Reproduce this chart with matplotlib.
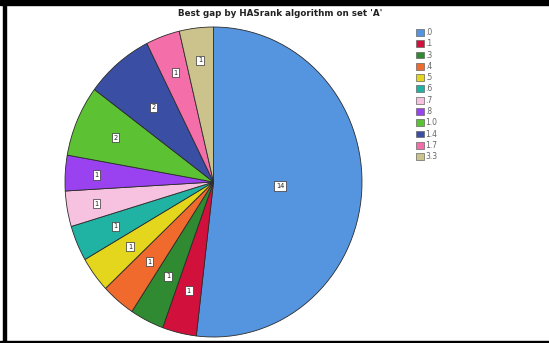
import numpy as np
import matplotlib
matplotlib.use('Agg')
import matplotlib.pyplot as plt
from matplotlib.patches import Patch, Rectangle

# Data
categories = ['.0', '.1', '.3', '.4', '.5', '.6', '.7', '.8', '1.0', '1.4', '1.7', '3.3']
counts = [14, 1, 1, 1, 1, 1, 1, 1, 2, 2, 1, 1]
colors = ['#5594df', '#d2103c', '#2f8a32', '#ef6a2c', '#e3d61c', '#20b2a3',
          '#f7c2e0', '#9a42ef', '#5cc133', '#3a4fa4', '#f46ea9', '#cbc28c']
label_r = [0.45, 0.72, 0.68, 0.67, 0.7, 0.72, 0.8, 0.79, 0.72, 0.63, 0.75, 0.79]

W, H = 549, 343
fig = plt.figure(figsize=(W / 100, H / 100), dpi=100)
fig.patch.set_facecolor('white')

# pie axes placed on the pixel box the pie fills
ax = fig.add_axes([65 / W, (H - 337) / H, 297 / W, 310 / H])
wedges, _ = ax.pie(counts, colors=colors, startangle=90, counterclock=False,
                   radius=1.0,
                   wedgeprops=dict(edgecolor='#2b2b2b', linewidth=0.6))
ax.set_aspect('auto')
ax.set_xlim(-1, 1)
ax.set_ylim(-1, 1)
ax.axis('off')

for w, n, r in zip(wedges, counts, label_r):
    mid = np.deg2rad((w.theta1 + w.theta2) / 2)
    ax.text(r * np.cos(mid), r * np.sin(mid), str(n), ha='center', va='center',
            fontsize=4.8, color='#222222',
            bbox=dict(boxstyle='square,pad=0.25', fc='white', ec='#333333', lw=0.5))

fig.text(280 / W, 1 - 13 / H, "Best gap by HASrank algorithm on set 'A'",
         ha='center', va='center', fontsize=6.3, fontweight='bold', color='#222222')

handles = [Patch(facecolor=c, edgecolor='#666666', linewidth=0.5) for c in colors]
fig.legend(handles, categories, loc='upper left', bbox_to_anchor=(416 / W, 1 - 28 / H),
           frameon=False, fontsize=5.5, labelcolor='#666666',
           handlelength=1.0, handleheight=1.0, handletextpad=0.25,
           labelspacing=0.3, borderpad=0, borderaxespad=0)

# black frame around the picture
fig.patches.append(Rectangle((0, 1 - 5 / H), 1, 5 / H, transform=fig.transFigure,
                             color='black', zorder=10))
fig.patches.append(Rectangle((3 / W, 0), 3 / W, 1, transform=fig.transFigure,
                             color='black', zorder=10))
fig.patches.append(Rectangle((0, 0), 1, 2 / H, transform=fig.transFigure,
                             color='black', zorder=10))

fig.savefig('out.png', dpi=100)
